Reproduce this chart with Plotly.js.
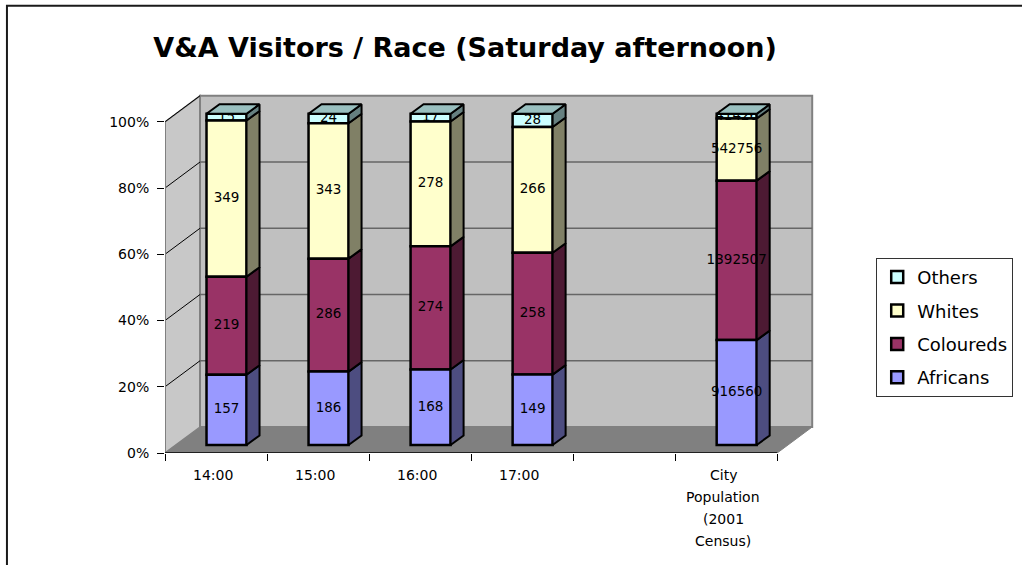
<!DOCTYPE html>
<html>
<head>
<meta charset="utf-8">
<script src="https://cdn.plot.ly/plotly-3.0.1.min.js"></script>
<style>
  html, body { margin: 0; padding: 0; background: #fff; }
  #chart { width: 1022px; height: 565px; }
</style>
</head>
<body>
<div id="chart"></div>
<script>
// ---- data ----
const categories = ['14:00', '15:00', '16:00', '17:00', '', 'City Population (2001 Census)'];
const seriesNames = ['Africans', 'Coloureds', 'Whites', 'Others'];
const africans  = [157, 186, 168, 149, null, 916560];
const coloureds = [219, 286, 274, 258, null, 1392507];
const whites    = [349, 343, 278, 266, null, 542756];
const others    = [15, 24, 17, 28, null, 41426];
const yTickVals = [0, 20, 40, 60, 80, 100];
const yTickText = ['0%', '20%', '40%', '60%', '80%', '100%'];

// ---- styles ----
const frontColors = ['#9999FF', '#993366', '#FFFFCC', '#CCFFFF'];
const sideColors  = ['#4D4D80', '#4D1A33', '#808066', '#668080'];
const topColors   = ['#7373BF', '#73264D', '#BFBF99', '#99BFBF'];
const FONT = 'DejaVu Sans, Verdana, sans-serif';

// ---- geometry (pixels) ----
const X0PX = 165, Y0PX = 453;        // front-plane origin
const PXU_X = 102, PXU_Y = 3.31;     // px per category / per percent
const WALL_D = {x: 35, y: 26};       // depth of the walls (px)
const BAR_OFF = {x: 10.5, y: 8};     // front face offset into depth (px)
const BAR_DEP = {x: 13, y: 9.5};     // depth of a bar (px)
const BAR_W = 40;                    // bar front width (px)
const X_MAX = 6.4, Y_MAX = 109;

const ux = px => px / PXU_X, uy = px => px / PXU_Y;
const nCat = categories.length;
const plotW = X_MAX * PXU_X, plotH = Y_MAX * PXU_Y;
const mL = X0PX, mB = 565 - Y0PX, mT = Y0PX - plotH, mR = 1022 - X0PX - plotW;

const values = [africans, coloureds, whites, others];
const wDx = ux(WALL_D.x), wDy = uy(WALL_D.y);
const oDx = ux(BAR_OFF.x), oDy = uy(BAR_OFF.y);
const bDx = ux(BAR_DEP.x), bDy = uy(BAR_DEP.y);
const bw = ux(BAR_W);

const barTraces = [];
const sideTraces = [];
const labelX = [], labelY = [], labelT = [];
const topX = [], topY = [];

const totals = [];
for (let i = 0; i < nCat; i++) {
  let total = 0;
  values.forEach(v => { if (v[i] != null) total += v[i]; });
  totals.push(total);
}

values.forEach((vals, s) => {
  const xs = [], bases = [], ys = [];
  const sx = [], sy = [];
  vals.forEach((v, i) => {
    if (v == null) return;
    const total = totals[i];
    let below = 0;
    for (let k = 0; k < s; k++) below += values[k][i] || 0;
    const lo = below / total * 100, pct = v / total * 100;
    const cx = i + 0.5 + oDx;
    const y0 = lo + oDy, y1 = lo + pct + oDy;
    xs.push(cx); bases.push(y0); ys.push(pct);
    const xr = cx + bw / 2;
    sx.push(xr, xr + bDx, xr + bDx, xr, xr, null);
    sy.push(y0, y0 + bDy, y1 + bDy, y1, y0, null);
    labelX.push(cx); labelY.push((y0 + y1) / 2); labelT.push(String(v));
    if (s === values.length - 1) {
      const xl = cx - bw / 2;
      topX.push(xl, xr, xr + bDx, xl + bDx, xl, null);
      topY.push(y1, y1, y1 + bDy, y1 + bDy, y1, null);
    }
  });
  barTraces.push({
    type: 'bar', name: seriesNames[s], legendgroup: seriesNames[s],
    x: xs, y: ys, base: bases, width: bw, hoverinfo: 'skip',
    marker: {color: frontColors[s], line: {color: '#000', width: 2.5}},
    opacity: 1
  });
  sideTraces.push({
    type: 'scatter', mode: 'lines', x: sx, y: sy, fill: 'toself',
    fillcolor: sideColors[s], line: {color: '#000', width: 2},
    showlegend: false, legendgroup: seriesNames[s], hoverinfo: 'skip'
  });
});

const labelTrace = {
  type: 'scatter', mode: 'text', x: labelX, y: labelY, text: labelT,
  textfont: {family: FONT, size: 13.5, color: '#000'},
  textposition: 'middle center', showlegend: false, hoverinfo: 'skip', cliponaxis: false
};
const topTrace = {
  type: 'scatter', mode: 'lines', x: topX, y: topY, fill: 'toself',
  fillcolor: topColors[3], line: {color: '#000', width: 2},
  showlegend: false, legendgroup: seriesNames[3], hoverinfo: 'skip'
};

// legend lists Others first, so bar traces go in reverse series order
const data = barTraces.slice().reverse().concat(sideTraces, [labelTrace, topTrace]);

// ---- walls, floor and grid as shapes ----
const shapes = [];
const poly = pts => 'M ' + pts.map(p => p[0] + ' ' + p[1]).join(' L ') + ' Z';
shapes.push({type: 'path', xref: 'x', yref: 'y', layer: 'below',
  path: poly([[0, 0], [nCat, 0], [nCat + wDx, wDy], [wDx, wDy]]),
  fillcolor: '#808080', line: {color: '#808080', width: 1}});
shapes.push({type: 'path', xref: 'x', yref: 'y', layer: 'below',
  path: poly([[0, 0], [0, 100], [wDx, 100 + wDy], [wDx, wDy]]),
  fillcolor: '#C8C8C8', line: {color: '#808080', width: 1.5}});
shapes.push({type: 'path', xref: 'x', yref: 'y', layer: 'below',
  path: poly([[wDx, wDy], [wDx, 100 + wDy], [nCat + wDx, 100 + wDy], [nCat + wDx, wDy]]),
  fillcolor: '#C0C0C0', line: {color: '#808080', width: 2}});
yTickVals.forEach(v => {
  if (v === 0) return;
  if (v < 100) {
    shapes.push({type: 'line', xref: 'x', yref: 'y', layer: 'below',
      x0: wDx, x1: nCat + wDx, y0: v + wDy, y1: v + wDy,
      line: {color: '#666666', width: 1.5}});
  }
  shapes.push({type: 'line', xref: 'x', yref: 'y', layer: 'below',
    x0: 0, x1: wDx, y0: v, y1: v + wDy, line: {color: '#000', width: 1}});
});
shapes.push({type: 'line', xref: 'x', yref: 'y', layer: 'below',
  x0: 0, x1: 0, y0: 0, y1: 100, line: {color: '#808080', width: 2}});
shapes.push({type: 'line', xref: 'x', yref: 'y', layer: 'below',
  x0: 0, x1: nCat, y0: 0, y1: 0, line: {color: '#000', width: 1.5}});
shapes.push({type: 'rect', xref: 'paper', yref: 'paper', layer: 'above',
  x0: (7 - mL) / plotW, x1: (1040 - mL) / plotW,
  y0: (Y0PX - 600) / plotH, y1: (Y0PX - 6) / plotH,
  line: {color: '#1a1a1a', width: 2}, fillcolor: 'rgba(0,0,0,0)'});

// ---- category labels ----
function wrap(label, maxChars) {
  const words = label.split(' ');
  const lines = [];
  let cur = '';
  words.forEach(w => {
    if (!cur) cur = w;
    else if ((cur + ' ' + w).length <= maxChars) cur += ' ' + w;
    else { lines.push(cur); cur = w; }
  });
  if (cur) lines.push(cur);
  return lines;
}
const annotations = [];
categories.forEach((c, i) => {
  if (!c) return;
  wrap(c, 10).forEach((line, k) => {
    annotations.push({xref: 'x', yref: 'y', x: i + 0.47, y: 0,
      yanchor: 'middle', xanchor: 'center', yshift: -22 - 22 * k,
      text: line, showarrow: false,
      font: {family: FONT, size: 14, color: '#000'}});
  });
});

const layout = {
  width: 1022, height: 565,
  margin: {l: mL, r: mR, t: mT, b: mB, pad: 0, autoexpand: false},
  paper_bgcolor: '#fff', plot_bgcolor: 'rgba(0,0,0,0)',
  barmode: 'overlay',
  title: {text: 'V&A Visitors / Race (Saturday afternoon)',
    font: {family: FONT, size: 27, color: '#000', weight: 'bold'},
    x: 465 / 1022, xanchor: 'center', xref: 'container',
    y: 1 - 48 / 565, yanchor: 'middle', yref: 'container'},
  xaxis: {range: [0, X_MAX], showgrid: false, zeroline: false, showline: false,
    tickmode: 'array', tickvals: categories.map((c, i) => i).concat([nCat]),
    ticks: 'outside', ticklen: 7, tickwidth: 1, tickcolor: '#000',
    showticklabels: false, fixedrange: true, automargin: false},
  yaxis: {range: [0, Y_MAX], showgrid: false, zeroline: false, showline: false,
    tickmode: 'array', tickvals: yTickVals, ticktext: yTickText,
    ticks: 'outside', ticklen: 7, tickwidth: 1, tickcolor: '#000',
    ticklabelstandoff: 5, automargin: false,
    tickfont: {family: FONT, size: 14, color: '#000'}, fixedrange: true},
  legend: {x: (876 - mL) / plotW, y: (Y0PX - 258) / plotH, xanchor: 'left', yanchor: 'top',
    traceorder: 'grouped', tracegroupgap: 7,
    font: {family: FONT, size: 18, color: '#000'},
    bgcolor: '#fff', bordercolor: '#333', borderwidth: 1},
  shapes: shapes,
  annotations: annotations,
  showlegend: true
};

Plotly.newPlot('chart', data, layout, {displayModeBar: false, staticPlot: true});
</script>
</body>
</html>
